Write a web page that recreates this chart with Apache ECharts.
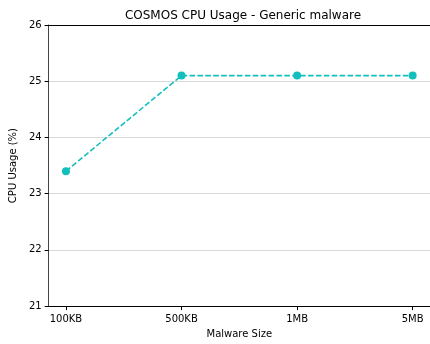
<!DOCTYPE html>
<html>
<head>
<meta charset="utf-8">
<script src="https://cdn.jsdelivr.net/npm/echarts@6/dist/echarts.min.js"></script>
<style>
  html, body { margin: 0; padding: 0; background: #fff; }
  #chart { width: 430px; height: 344px; }
</style>
</head>
<body>
<div id="chart"></div>
<script>
// Malware sizes tested and the CPU usage measured for each
const categories = ['100KB', '500KB', '1MB', '5MB'];
const cpuUsage = [23.4, 25.1, 25.1, 25.1];
const yTicks = [21, 22, 23, 24, 25, 26];

const FONT = 'DejaVu Sans';
const lineColor = '#12bfbf';

const chart = echarts.init(document.getElementById('chart'), null, { renderer: 'canvas' });

// category positions 0..n-1 on a value axis, padded by 5% of the span on each side
const span = categories.length - 1;
const pad = span * 0.05;

chart.setOption({
  animation: false,
  title: {
    text: 'COSMOS CPU Usage - Generic malware',
    left: 238, top: 5, textAlign: 'center',
    textStyle: { fontFamily: FONT, fontSize: 12, fontWeight: 'normal', color: '#000' }
  },
  grid: { left: 47, right: 0, top: 25, bottom: 33, containLabel: false },
  xAxis: [{
    type: 'value',
    min: -pad, max: span + pad,
    name: 'Malware Size',
    nameLocation: 'middle', nameGap: 21,
    nameTextStyle: { fontFamily: FONT, fontSize: 10, color: '#000' },
    axisLine: { show: true, onZero: false, lineStyle: { color: '#000', width: 1 } },
    axisTick: { show: true, length: 4, lineStyle: { color: '#000' }, customValues: categories.map((c, i) => i) },
    axisLabel: {
      show: true, margin: 8, fontFamily: FONT, fontSize: 10, color: '#000',
      customValues: categories.map((c, i) => i),
      formatter: v => categories[Math.round(v)]
    },
    splitLine: { show: false }
  }, {
    // top spine
    type: 'value', position: 'top',
    min: -pad, max: span + pad,
    axisLine: { show: true, onZero: false, lineStyle: { color: '#000', width: 1 } },
    axisTick: { show: false }, axisLabel: { show: false }, splitLine: { show: false }
  }],
  yAxis: {
    type: 'value',
    min: yTicks[0], max: yTicks[yTicks.length - 1], interval: 1,
    name: 'CPU Usage (%)',
    nameLocation: 'middle', nameGap: 26,
    nameTextStyle: { fontFamily: FONT, fontSize: 10, color: '#000' },
    axisLine: { show: true, onZero: false, lineStyle: { color: '#444', width: 1 } },
    axisTick: { show: true, length: 4, lineStyle: { color: '#000' } },
    axisLabel: { margin: 7, fontFamily: FONT, fontSize: 10, color: '#000' },
    splitLine: { show: true, lineStyle: { color: '#d9d9d9', width: 1 } }
  },
  series: [{
    type: 'line',
    xAxisIndex: 0,
    data: cpuUsage.map((v, i) => [i, v]),
    symbol: 'circle', symbolSize: 8,
    lineStyle: { color: lineColor, width: 1.6, type: [5.5, 2.4] },
    itemStyle: { color: lineColor }
  }]
});
</script>
</body>
</html>
